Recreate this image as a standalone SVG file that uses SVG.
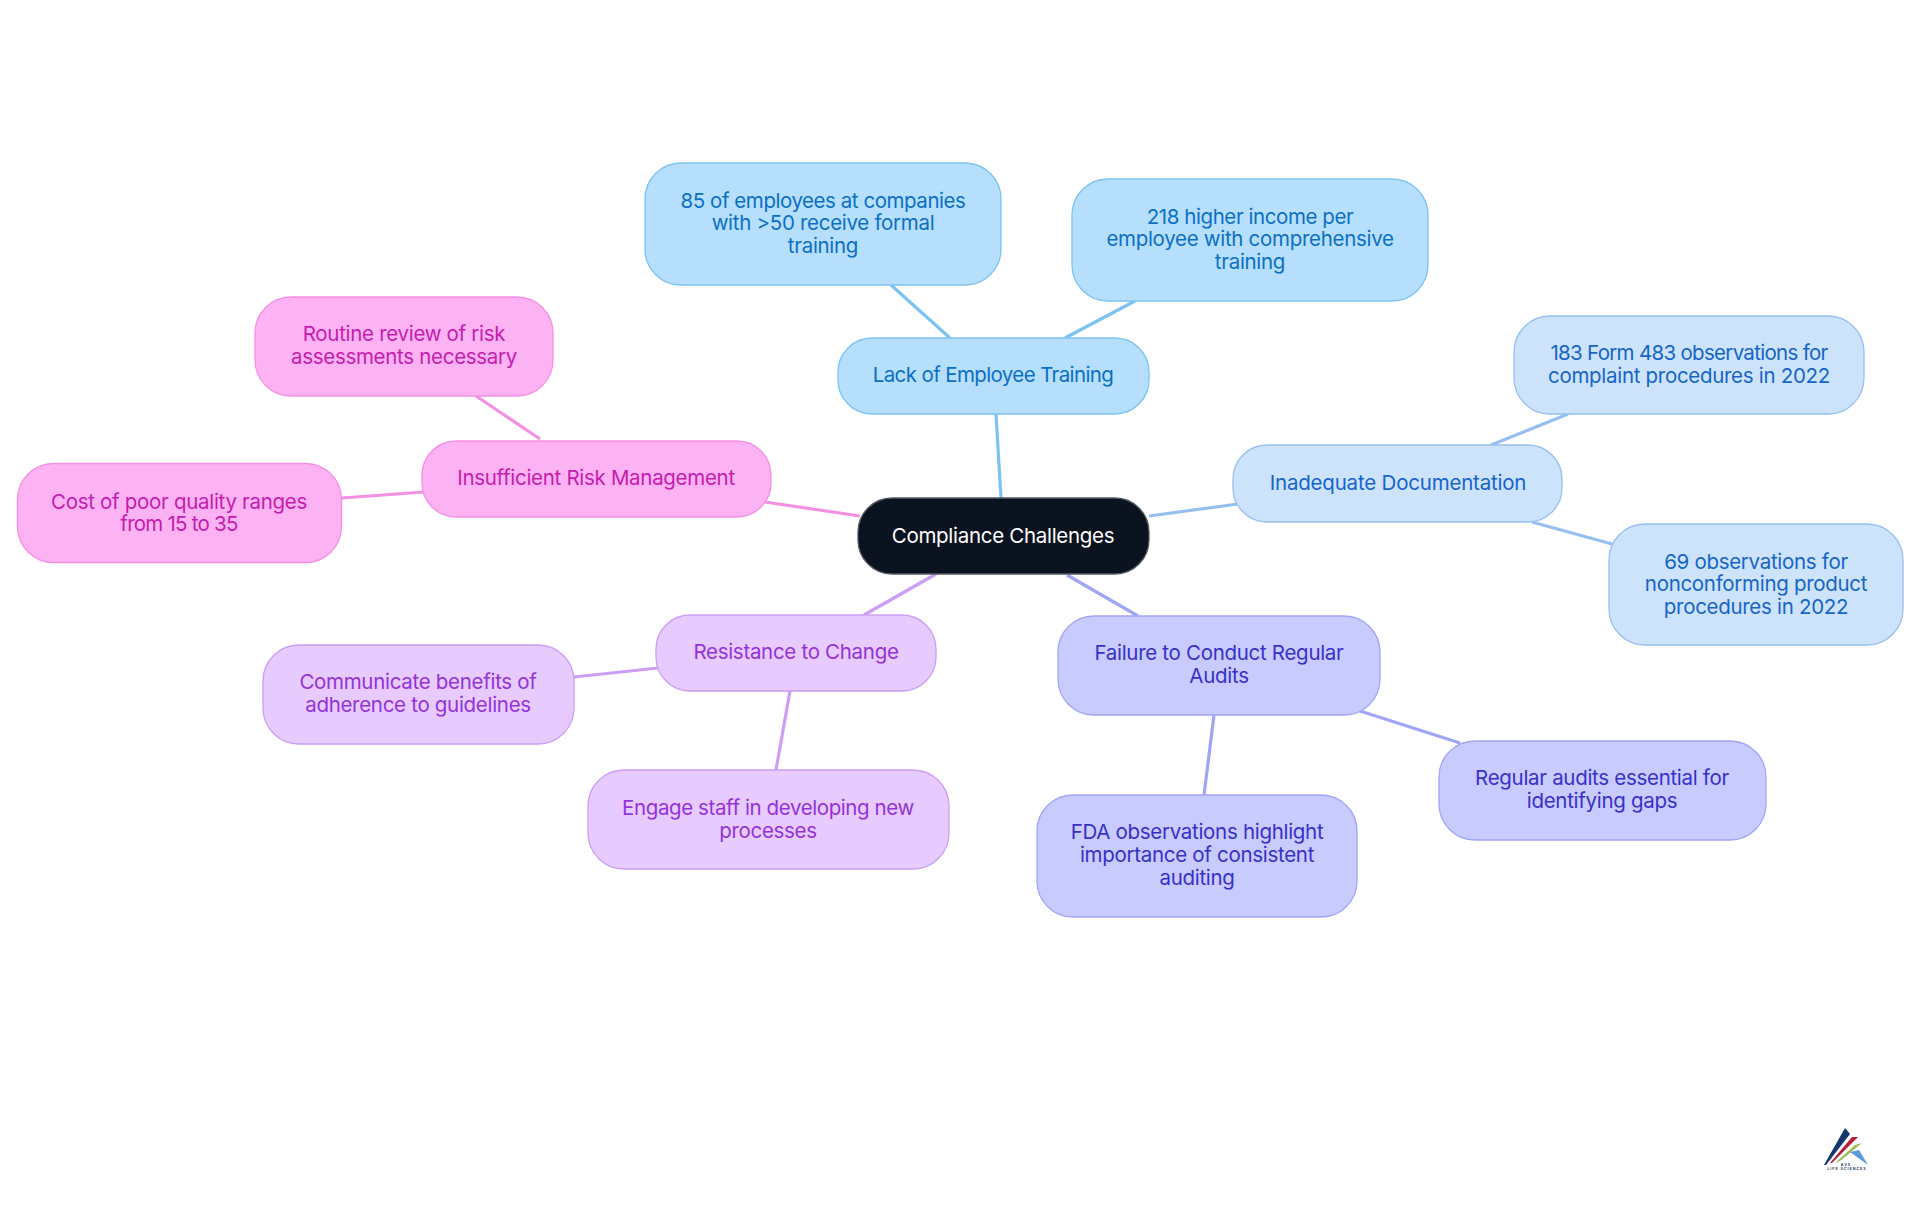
<svg xmlns="http://www.w3.org/2000/svg" width="1920" height="1215" viewBox="0 0 1920 1215">
<style>
text{font-family:"Inter","Noto Sans",sans-serif;font-size:20.5px;font-weight:400;text-anchor:middle;letter-spacing:-0.3px}
rect{stroke-width:1.3}
#connectors line{stroke-width:3.2;fill:none}
.sky rect{fill:#b5dffd;stroke:#7cc3f2}.sky text{fill:#0b6fc4}
.blue rect{fill:#cde3fb;stroke:#96c0f2}.blue text{fill:#1565c8}
.ind rect{fill:#c8cbfe;stroke:#a0a5f5}.ind text{fill:#3730c9}
.pur rect{fill:#e7cafe;stroke:#cc9ef5}.pur text{fill:#9333d9}
.pin rect{fill:#fdb3f3;stroke:#f490e3}.pin text{fill:#c71bb0}
.logo-t{font-size:3.6px;letter-spacing:1px;font-weight:700}
</style>
<rect width="1920" height="1215" fill="#fff" style="stroke:none"/>
<g id="connectors">
<g stroke="#7cc3f2"><line x1="996" y1="414" x2="1001" y2="498"/><line x1="891" y1="285" x2="950" y2="338"/><line x1="1135" y1="301" x2="1065" y2="338"/></g>
<g stroke="#96c0f2"><line x1="1149" y1="516" x2="1238" y2="504"/><line x1="1568" y1="414" x2="1491" y2="445"/><line x1="1612" y1="544" x2="1532" y2="522"/></g>
<g stroke="#a0a5f5"><line x1="1067" y1="575" x2="1138" y2="616"/><line x1="1214" y1="715" x2="1204" y2="795"/><line x1="1360" y1="711" x2="1460" y2="743"/></g>
<g stroke="#cc9ef5"><line x1="936" y1="574" x2="864" y2="615"/><line x1="658" y1="668" x2="574" y2="677"/><line x1="790" y1="691" x2="776" y2="770"/></g>
<g stroke="#f490e3"><line x1="860" y1="516" x2="765" y2="502"/><line x1="540" y1="439" x2="476" y2="396"/><line x1="342" y1="498" x2="424" y2="492"/></g>
</g>
<g id="n0"><rect x="858" y="498" width="291" height="76" rx="34" fill="#0b1320" stroke="#555b63"/><text x="1003" y="543" fill="#fff">Compliance Challenges</text></g>
<g id="n1" class="sky"><rect x="838" y="338" width="311" height="76" rx="34"/><text x="993" y="382" style="letter-spacing:-.62px">Lack of Employee Training</text></g>
<g id="n2" class="sky"><rect x="645" y="163" width="356" height="122" rx="36"/><text x="823" y="208" style="letter-spacing:-.45px">85 of employees at companies</text><text x="823" y="230">with &gt;50 receive formal</text><text x="823" y="253">training</text></g>
<g id="n3" class="sky"><rect x="1072" y="179" width="356" height="122" rx="36"/><text x="1250" y="224" style="letter-spacing:-.42px">218 higher income per</text><text x="1250" y="246">employee with comprehensive</text><text x="1250" y="269">training</text></g>
<g id="n4" class="blue"><rect x="1233" y="445" width="329" height="77" rx="34"/><text x="1398" y="490" style="letter-spacing:-.2px">Inadequate Documentation</text></g>
<g id="n5" class="blue"><rect x="1514" y="316" width="350" height="98" rx="36"/><text x="1689" y="360" style="letter-spacing:-.7px">183 Form 483 observations for</text><text x="1689" y="383">complaint procedures in 2022</text></g>
<g id="n6" class="blue"><rect x="1609" y="524" width="294" height="121" rx="36"/><text x="1756" y="569">69 observations for</text><text x="1756" y="591">nonconforming product</text><text x="1756" y="614">procedures in 2022</text></g>
<g id="n7" class="ind"><rect x="1058" y="616" width="322" height="99" rx="36"/><text x="1219" y="660">Failure to Conduct Regular</text><text x="1219" y="683">Audits</text></g>
<g id="n8" class="ind"><rect x="1439" y="741" width="327" height="99" rx="36"/><text x="1602" y="785">Regular audits essential for</text><text x="1602" y="808">identifying gaps</text></g>
<g id="n9" class="ind"><rect x="1037" y="795" width="320" height="122" rx="36"/><text x="1197" y="839">FDA observations highlight</text><text x="1197" y="862">importance of consistent</text><text x="1197" y="885">auditing</text></g>
<g id="n10" class="pur"><rect x="656" y="615" width="280" height="76" rx="34"/><text x="796" y="659">Resistance to Change</text></g>
<g id="n11" class="pur"><rect x="263" y="645" width="311" height="99" rx="36"/><text x="418" y="689">Communicate benefits of</text><text x="418" y="712">adherence to guidelines</text></g>
<g id="n12" class="pur"><rect x="588" y="770" width="361" height="99" rx="36"/><text x="768" y="815" style="letter-spacing:-.4px">Engage staff in developing new</text><text x="768" y="838">processes</text></g>
<g id="n13" class="pin"><rect x="422" y="441" width="349" height="76" rx="34"/><text x="596" y="485">Insufficient Risk Management</text></g>
<g id="n14" class="pin"><rect x="255" y="297" width="298" height="99" rx="36"/><text x="404" y="341">Routine review of risk</text><text x="404" y="364">assessments necessary</text></g>
<g id="n15" class="pin"><rect x="17.5" y="463.5" width="324" height="99" rx="36"/><text x="179" y="509">Cost of poor quality ranges</text><text x="179" y="531" style="letter-spacing:-.76px">from 15 to 35</text></g>
<g id="logo">
<polygon points="1824,1165 1845,1128 1850,1134 1826,1165" fill="#14386e"/>
<polygon points="1830,1163 1852,1137 1858,1137 1832,1163" fill="#b32036"/>
<polygon points="1835,1163 1855,1145 1862,1143 1840,1161" fill="#9dbb57"/>
<polygon points="1850,1152 1859,1150 1868,1165" fill="#5b9bdc"/>
<text x="1846" y="1166" class="logo-t" fill="#2a3a55">AVS</text>
<text x="1847" y="1170" class="logo-t" fill="#2a3a55">LIFE SCIENCES</text>
</g>
</svg>
